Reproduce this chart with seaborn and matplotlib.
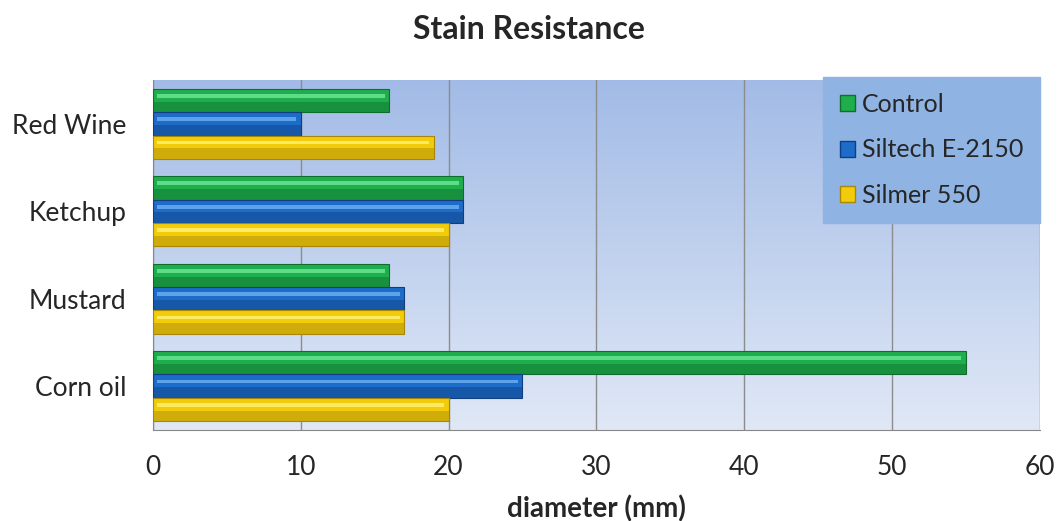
import numpy as np
import pandas as pd
import matplotlib
matplotlib.use("Agg")
import matplotlib.pyplot as plt
import seaborn as sns
from matplotlib.patches import Rectangle

# data
stains = ['Red Wine', 'Ketchup', 'Mustard', 'Corn oil']
series = ['Control', 'Siltech E-2150', 'Silmer 550']
control = [16, 21, 16, 55]
siltech = [10, 21, 17, 25]
silmer = [19, 20, 17, 20]
xticks = [0, 10, 20, 30, 40, 50, 60]

colors = ['#1fae4c', '#1d6cc9', '#f2cc0a']
dark = ['#0f6e2e', '#0f3f80', '#a8860a']
light = ['#6ee89a', '#6fb2f2', '#fff27a']

df = pd.DataFrame({
    'stain': stains * 3,
    'series': [s for s in series for _ in stains],
    'diameter': control + siltech + silmer,
})

sns.set_style('white')
plt.rcParams['font.family'] = ['Lato', 'DejaVu Sans']

fig = plt.figure(figsize=(10.57, 5.21), dpi=100)
ax = fig.add_axes([0.1447, 0.175, 0.839, 0.671])

# blue gradient plot area
grad = np.linspace(0, 1, 256).reshape(-1, 1)
cmap = matplotlib.colors.LinearSegmentedColormap.from_list('bg', ['#a2bbe6', '#e0e8f6'])
ax.imshow(grad, extent=[0, 1, 0, 1], transform=ax.transAxes, cmap=cmap,
          aspect='auto', zorder=0, origin='upper')

sns.barplot(data=df, y='stain', x='diameter', hue='series', order=stains,
            hue_order=series, palette=colors, orient='h', width=0.8,
            saturation=1, ax=ax, zorder=3, legend=False)

# bevel look: darker lower band and lighter stripe on each bar
for i, cont in enumerate(ax.containers):
    for p in cont.patches:
        x0, y0 = p.get_x(), p.get_y()
        w, h = p.get_width(), p.get_height()
        p.set_edgecolor(dark[i])
        p.set_linewidth(0.8)
        ax.add_patch(Rectangle((x0, y0 + h * 0.55), w, h * 0.45, facecolor=dark[i],
                               alpha=0.45, linewidth=0, zorder=4))
        ax.add_patch(Rectangle((x0 + 0.3, y0 + h * 0.22), max(w - 0.6, 0), h * 0.16,
                               facecolor=light[i], alpha=0.8, linewidth=0, zorder=4))

ax.set_xlim(0, 60)
ax.set_ylim(3.5, -0.5)
ax.set_xticks(xticks)
ax.set_xticklabels([str(t) for t in xticks], fontsize=19)
ax.tick_params(axis='x', length=6, color='#888888', direction='out', pad=12)
ax.set_yticks(range(len(stains)))
ax.set_yticklabels(stains, fontsize=19)
ax.tick_params(axis='y', which='major', length=0, pad=19)
ax.set_yticks(np.arange(-0.5, 4, 1), minor=True)
ax.tick_params(axis='y', which='minor', length=6, color='#888888', direction='out')
ax.grid(axis='x', color='#8c8c8c', linewidth=1, zorder=1)
ax.set_axisbelow(True)
for s in ['top', 'right']:
    ax.spines[s].set_visible(False)
for s in ['left', 'bottom']:
    ax.spines[s].set_color('#888888')
ax.set_ylabel('')
ax.set_xlabel('diameter (mm)', fontsize=20, fontweight='bold', labelpad=11)
fig.suptitle('Stain Resistance', fontsize=23, fontweight='bold', y=0.972)

handles = [Rectangle((0, 0), 1, 1, facecolor=c, edgecolor=d, linewidth=1)
           for c, d in zip(colors, dark)]
leg = ax.legend(handles, series, loc='upper right', bbox_to_anchor=(1.0, 1.01),
                fontsize=18, frameon=True, fancybox=False, handlelength=0.6,
                handleheight=0.6, handletextpad=0.3, labelspacing=0.9,
                borderpad=0.65, borderaxespad=0)
leg.get_frame().set_facecolor('#8fb3e2')
leg.get_frame().set_edgecolor('#8fb3e2')
leg.get_frame().set_alpha(1)
leg.set_zorder(10)

fig.savefig('out.png', dpi=100)
